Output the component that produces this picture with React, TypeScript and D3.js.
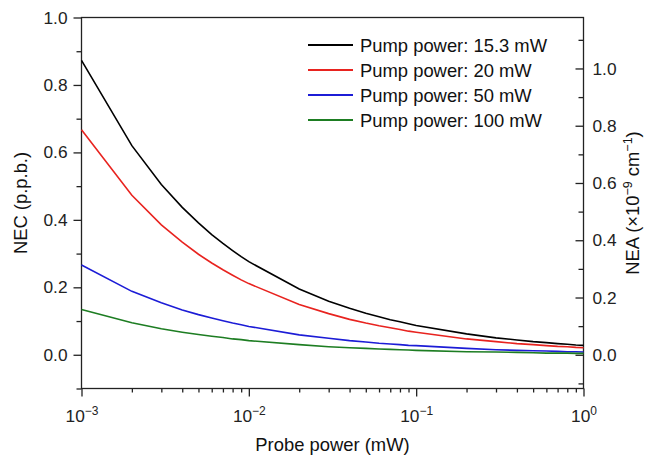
import React, { useRef, useEffect } from 'react';
import * as d3 from 'd3';

// probe power (mW), log grid used by the curves
const probePower = [
  0.001, 0.002, 0.003, 0.004, 0.005, 0.006, 0.007, 0.008, 0.009,
  0.01, 0.02, 0.03, 0.04, 0.05, 0.06, 0.07, 0.08, 0.09,
  0.1, 0.2, 0.3, 0.4, 0.5, 0.6, 0.7, 0.8, 0.9, 1,
];

// NEC (p.p.b.), one array per pump power
const pump15 = [
  0.873, 0.620, 0.505, 0.437, 0.391, 0.356, 0.330, 0.309, 0.291,
  0.276, 0.195, 0.159, 0.138, 0.123, 0.113, 0.104, 0.098, 0.092,
  0.087, 0.062, 0.050, 0.044, 0.039, 0.036, 0.033, 0.031, 0.029, 0.028,
];
const pump20 = [
  0.667, 0.473, 0.385, 0.334, 0.298, 0.272, 0.252, 0.236, 0.222,
  0.211, 0.149, 0.122, 0.105, 0.094, 0.086, 0.080, 0.075, 0.070,
  0.067, 0.047, 0.039, 0.033, 0.030, 0.027, 0.025, 0.024, 0.022, 0.021,
];
const pump50 = [
  0.266, 0.188, 0.154, 0.133, 0.119, 0.109, 0.101, 0.094, 0.089,
  0.084, 0.059, 0.049, 0.042, 0.038, 0.034, 0.032, 0.030, 0.028,
  0.027, 0.019, 0.015, 0.013, 0.012, 0.011, 0.010, 0.009, 0.009, 0.008,
];
const pump100 = [
  0.134, 0.095, 0.077, 0.067, 0.060, 0.055, 0.051, 0.047, 0.045,
  0.042, 0.030, 0.024, 0.021, 0.019, 0.017, 0.016, 0.015, 0.014,
  0.013, 0.009, 0.008, 0.007, 0.006, 0.005, 0.005, 0.005, 0.004, 0.004,
];

const seriesNames = [
  'Pump power: 15.3 mW',
  'Pump power: 20 mW',
  'Pump power: 50 mW',
  'Pump power: 100 mW',
];

const necTicks = [0, 0.2, 0.4, 0.6, 0.8, 1.0];
const necMinor = [-0.1, 0.1, 0.3, 0.5, 0.7, 0.9];
const neaTicks = [0, 0.2, 0.4, 0.6, 0.8, 1.0];
const neaMinor = [-0.1, 0.1, 0.3, 0.5, 0.7, 0.9, 1.1];
const xMajor = [0.001, 0.01, 0.1, 1];
const xExponents = ['\u22123', '\u22122', '\u22121', '0'];

const colors = ['#000000', '#e8231f', '#1c1cd6', '#1d7d22'];
const font = '"Liberation Sans", Arial, Helvetica, sans-serif';
const tickFont = 17.3;
const titleFont = 18.4;

const Chart = ({ width, height }: { width: number; height: number }) => {
  const svg = useRef<SVGSVGElement>(null);

  useEffect(() => {
    const left = 81.5, right = 583.5, top = 17.5, bottom = 388.5;
    const root = d3.select(svg.current);
    root.selectAll('*').remove();

    const x = d3.scaleLog().domain([0.001, 1]).range([left, right]);
    const y = d3.scaleLinear().domain([-0.1, 1.0]).range([bottom, top]);
    // right axis shares the zero, different scale
    const yR = d3.scaleLinear().domain([-0.1178, 1.178]).range([bottom, top]);

    const xMinor: number[] = [];
    xMajor.slice(0, 3).forEach((d) => {
      for (let k = 2; k <= 9; k++) xMinor.push(d * k);
    });

    const styleAxis = (g: any) => {
      g.select('.domain').remove();
      g.selectAll('line').attr('stroke', '#222').attr('stroke-width', 1.3);
      g.selectAll('text')
        .attr('font-family', font)
        .attr('font-size', tickFont)
        .attr('fill', '#222');
    };

    // minor ticks first
    root.append('g')
      .attr('transform', `translate(${left},0)`)
      .call(d3.axisLeft(y).tickValues(necMinor).tickSize(5).tickFormat(() => ''))
      .call(styleAxis);
    root.append('g')
      .attr('transform', `translate(${left},0)`)
      .call(d3.axisLeft(y).tickValues(necTicks).tickSize(8).tickPadding(6)
        .tickFormat((d) => d3.format('.1f')(d as number)))
      .call(styleAxis);

    // right axis: ticks point inward
    root.append('g')
      .attr('transform', `translate(${right},0)`)
      .call(d3.axisRight(yR).tickValues(neaMinor).tickSize(-5).tickFormat(() => ''))
      .call(styleAxis);
    root.append('g')
      .attr('transform', `translate(${right},0)`)
      .call(d3.axisRight(yR).tickValues(neaTicks).tickSize(-8).tickPadding(9)
        .tickFormat((d) => d3.format('.1f')(d as number)))
      .call(styleAxis);

    root.append('g')
      .attr('transform', `translate(0,${bottom})`)
      .call(d3.axisBottom(x).tickValues(xMinor).tickSize(4).tickFormat(() => ''))
      .call(styleAxis);
    const xg = root.append('g')
      .attr('transform', `translate(0,${bottom})`)
      .call(d3.axisBottom(x).tickValues(xMajor).tickSize(8).tickPadding(13)
        .tickFormat(() => ''))
      .call(styleAxis);

    // 10^n labels with superscript
    xg.selectAll('.tick text').each(function (_d, i) {
      const t = d3.select(this as SVGTextElement);
      t.text('');
      t.append('tspan').text('10');
      t.append('tspan').attr('dy', -7).attr('font-size', 12).text(xExponents[i]);
    });

    // frame
    root.append('rect')
      .attr('x', left).attr('y', top)
      .attr('width', right - left).attr('height', bottom - top)
      .attr('fill', 'none').attr('stroke', '#222').attr('stroke-width', 1.3);

    const line = d3.line<number>()
      .x((_d, i) => x(probePower[i]))
      .y((d) => y(d));

    [pump15, pump20, pump50, pump100].forEach((s, i) => {
      root.append('path')
        .datum(s)
        .attr('fill', 'none')
        .attr('stroke', colors[i])
        .attr('stroke-width', 1.6)
        .attr('d', line);
    });

    // legend
    const leg = root.append('g');
    seriesNames.forEach((name, i) => {
      const ly = 45 + i * 25;
      leg.append('line')
        .attr('x1', 308).attr('x2', 353).attr('y1', ly).attr('y2', ly)
        .attr('stroke', colors[i]).attr('stroke-width', 1.8);
      leg.append('text')
        .attr('x', 360).attr('y', ly + 6.5)
        .attr('font-family', font).attr('font-size', titleFont).attr('fill', '#111')
        .text(name);
    });

    // axis titles
    root.append('text')
      .attr('x', (left + right) / 2).attr('y', 451)
      .attr('text-anchor', 'middle')
      .attr('font-family', font).attr('font-size', titleFont).attr('fill', '#111')
      .text('Probe power (mW)');

    root.append('text')
      .attr('transform', `translate(27,${(top + bottom) / 2}) rotate(-90)`)
      .attr('text-anchor', 'middle')
      .attr('font-family', font).attr('font-size', titleFont).attr('fill', '#111')
      .text('NEC (p.p.b.)');

    const nea = root.append('text')
      .attr('transform', `translate(639,${(top + bottom) / 2}) rotate(-90)`)
      .attr('text-anchor', 'middle')
      .attr('font-family', font).attr('font-size', titleFont).attr('fill', '#111');
    nea.append('tspan').text('NEA (\u00d710');
    nea.append('tspan').attr('dy', -7).attr('font-size', 12.5).text('\u22129');
    nea.append('tspan').attr('dy', 7).text(' cm');
    nea.append('tspan').attr('dy', -7).attr('font-size', 12.5).text('\u22121');
    nea.append('tspan').attr('dy', 7).text(')');
  }, []);

  return (
    <svg
      width={width}
      height={height}
      ref={svg}
      style={{ position: 'absolute', left: 0, top: 0, background: '#fff' }}
    ></svg>
  );
};

export default function App() {
  return <Chart width={653} height={458} />;
}
